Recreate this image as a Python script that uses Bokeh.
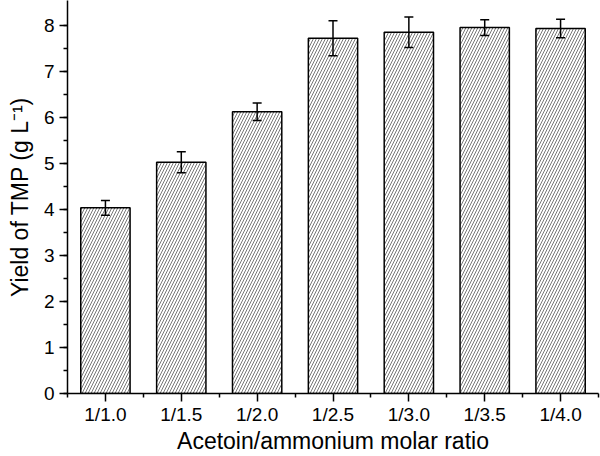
from bokeh.plotting import figure
from bokeh.models import ColumnDataSource, Whisker, FixedTicker, TeeHead
from bokeh.embed import file_html
from bokeh.resources import INLINE

categories = ["1/1.0", "1/1.5", "1/2.0", "1/2.5", "1/3.0", "1/3.5", "1/4.0"]
yield_tmp = [4.04, 5.03, 6.13, 7.73, 7.86, 7.96, 7.94]
errors = [0.16, 0.23, 0.19, 0.38, 0.33, 0.17, 0.20]

xpos = list(range(1, len(categories) + 1))
src = ColumnDataSource(dict(
    x=xpos, y=yield_tmp,
    upper=[v + e for v, e in zip(yield_tmp, errors)],
    lower=[v - e for v, e in zip(yield_tmp, errors)],
))

p = figure(width=600, height=456, output_backend="svg", toolbar_location=None,
           x_range=(0.5, 7.5), y_range=(0, 8.55),
           min_border_left=67, min_border_right=2, min_border_top=0, min_border_bottom=62)
p.outline_line_color = None
p.xgrid.visible = False
p.ygrid.visible = False

p.vbar(x="x", top="y", width=0.65, bottom=0, source=src,
       fill_color="white", line_color="black", line_width=1.5,
       hatch_pattern="/", hatch_color="#777777", hatch_scale=6, hatch_weight=1)

w = Whisker(base="x", upper="upper", lower="lower", source=src, level="overlay",
            line_color="black", line_width=1.5,
            upper_head=TeeHead(size=9, line_color="black", line_width=1.5),
            lower_head=TeeHead(size=9, line_color="black", line_width=1.5))
p.add_layout(w)

font = "Liberation Sans"
p.xaxis.ticker = FixedTicker(ticks=xpos, minor_ticks=[i + 0.5 for i in range(0, len(categories) + 1)])
p.xaxis.major_label_overrides = {x: c for x, c in zip(xpos, categories)}
p.yaxis.ticker = FixedTicker(ticks=list(range(0, 9)), minor_ticks=[i * 0.5 for i in range(0, 17)])

for ax in (p.xaxis, p.yaxis):
    ax.axis_line_width = 1.5
    ax.axis_line_color = "black"
    ax.major_tick_in = 0
    ax.major_tick_out = 8
    ax.minor_tick_in = 0
    ax.minor_tick_out = 4
    ax.major_tick_line_width = 1.5
    ax.minor_tick_line_width = 1.5
    ax.major_label_text_font = font
    ax.major_label_text_font_size = "19px"
    ax.major_label_text_color = "black"
    ax.axis_label_text_font = font
    ax.axis_label_text_font_size = "23px"
    ax.axis_label_text_font_style = "normal"
    ax.axis_label_text_color = "black"

p.xaxis.axis_label = "Acetoin/ammonium molar ratio"
p.yaxis.axis_label = "Yield of TMP (g L\u207b\u00b9)"
p.xaxis.major_label_standoff = 2
p.yaxis.major_label_standoff = 5
p.xaxis.axis_label_standoff = 0
p.yaxis.axis_label_standoff = 8

open("out.html", "w").write(file_html(p, INLINE))
